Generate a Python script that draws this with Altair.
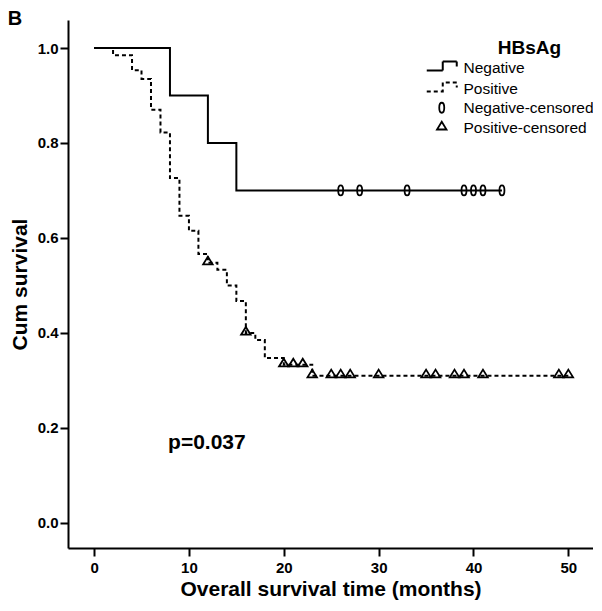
import altair as alt
import pandas as pd

# ---- data ----
neg_time = [0, 8, 12, 15, 43]
neg_surv = [1.0, 0.9, 0.8, 0.7, 0.7]
neg_cens_time = [26, 28, 33, 39, 40, 41, 43]
neg_cens_surv = [0.7] * 7

pos_time = [0, 2, 4, 5, 6, 7, 8, 9, 10, 11, 12, 13, 14, 15, 16, 17, 18, 20, 23, 50]
pos_surv = [1.0, 0.985, 0.953, 0.935, 0.870, 0.822, 0.726, 0.647, 0.615, 0.566,
            0.548, 0.533, 0.500, 0.467, 0.400, 0.385, 0.347, 0.333, 0.310, 0.310]
pos_cens_time = [12, 16, 20, 21, 22, 23, 25, 26, 27, 30, 35, 36, 38, 39, 41, 49, 50]
pos_cens_surv = [0.548, 0.400, 0.333, 0.333, 0.333, 0.310, 0.310, 0.310, 0.310,
                 0.310, 0.310, 0.310, 0.310, 0.310, 0.310, 0.310, 0.310]

groups = ["Negative", "Positive"]
cens_labels = ["Negative-censored", "Positive-censored"]

lines = pd.DataFrame({
    "time": neg_time + pos_time,
    "surv": neg_surv + pos_surv,
    "group": [groups[0]] * len(neg_time) + [groups[1]] * len(pos_time),
})
cens = pd.DataFrame({
    "time": neg_cens_time + pos_cens_time,
    "surv": neg_cens_surv + pos_cens_surv,
    "ctype": [cens_labels[0]] * len(neg_cens_time) + [cens_labels[1]] * len(pos_cens_time),
})
annot = pd.DataFrame({"time": [7.8], "surv": [0.168], "label": ["p=0.037"]})
legtitle = pd.DataFrame({"time": [45.9], "surv": [1.0], "label": ["HBsAg"]})
panel = pd.DataFrame({"time": [-9.1], "surv": [1.082], "label": ["B"]})

FONT = "Liberation Sans"
OVAL = "M0,-1A0.5,1 0 1,1 0,1A0.5,1 0 1,1 0,-1Z"
TRI = "M0,-1.2L0.95,0.35L-0.95,0.35Z"
STEP = "M-3,0.54L0.2,0.54L0.2,-1.26L3,-1.26L3,-0.26"

xscale = alt.Scale(domain=[-2.75, 52.6], nice=False, zero=False)
yscale = alt.Scale(domain=[-0.053, 1.059], nice=False, zero=False)

xaxis = alt.Axis(values=[0, 10, 20, 30, 40, 50], title="Overall survival time (months)",
                 labelPadding=4, titlePadding=3)
yaxis = alt.Axis(values=[0, 0.2, 0.4, 0.6, 0.8, 1.0], format=".1f", title="Cum survival",
                 labelPadding=2, titlePadding=7)

legend_common = dict(
    title=None, orient="none", legendX=366, symbolSize=100,
    labelFont=FONT, labelFontSize=15.5, labelColor="black", labelLimit=0,
    labelOffset=14, rowPadding=1,
)

line_layer = alt.Chart(lines).mark_line(
    interpolate="step-after", color="black", strokeWidth=2
).encode(
    x=alt.X("time:Q", scale=xscale, axis=xaxis),
    y=alt.Y("surv:Q", scale=yscale, axis=yaxis),
    strokeDash=alt.StrokeDash(
        "group:N",
        scale=alt.Scale(domain=groups, range=[[1, 0], [4, 3]]),
        legend=alt.Legend(
            legendY=40, symbolType=STEP, symbolStrokeWidth=2,
            symbolStrokeColor="black", symbolFillColor="transparent",
            **legend_common,
        ),
    ),
)

point_layer = alt.Chart(cens).mark_point(
    filled=False, color="black", strokeWidth=1.8, size=100, opacity=1
).encode(
    x=alt.X("time:Q", scale=xscale),
    y=alt.Y("surv:Q", scale=yscale),
    shape=alt.Shape(
        "ctype:N",
        scale=alt.Scale(domain=cens_labels, range=[OVAL, TRI]),
        legend=alt.Legend(
            legendY=80, symbolStrokeWidth=1.8, symbolStrokeColor="black",
            **legend_common,
        ),
    ),
)

p_text = alt.Chart(annot).mark_text(
    align="left", baseline="middle", font=FONT, fontSize=21, fontWeight="bold", color="black"
).encode(x=alt.X("time:Q", scale=xscale), y=alt.Y("surv:Q", scale=yscale), text="label:N")

title_text = alt.Chart(legtitle).mark_text(
    align="center", baseline="middle", font=FONT, fontSize=19, fontWeight="bold", color="black"
).encode(x=alt.X("time:Q", scale=xscale), y=alt.Y("surv:Q", scale=yscale), text="label:N")

panel_text = alt.Chart(panel).mark_text(
    align="left", baseline="top", font=FONT, fontSize=20, fontWeight="bold", color="black"
).encode(x=alt.X("time:Q", scale=xscale), y=alt.Y("surv:Q", scale=yscale), text="label:N")

chart = alt.layer(line_layer, point_layer, p_text, title_text, panel_text).properties(
    width=525, height=528,
    autosize=alt.AutoSizeParams(type="none"),
    padding={"left": 60, "top": 12, "right": 0, "bottom": 55},
).configure_view(stroke=None).configure_axis(
    grid=False, domainColor="black", domainWidth=2, tickColor="black", tickWidth=2,
    tickSize=8, labelFont=FONT, labelFontSize=15, labelFontWeight="bold", labelColor="black",
    titleFont=FONT, titleFontSize=21, titleFontWeight="bold", titleColor="black",
)

chart.save("out.html", embed_options={"renderer": "svg", "actions": False})
